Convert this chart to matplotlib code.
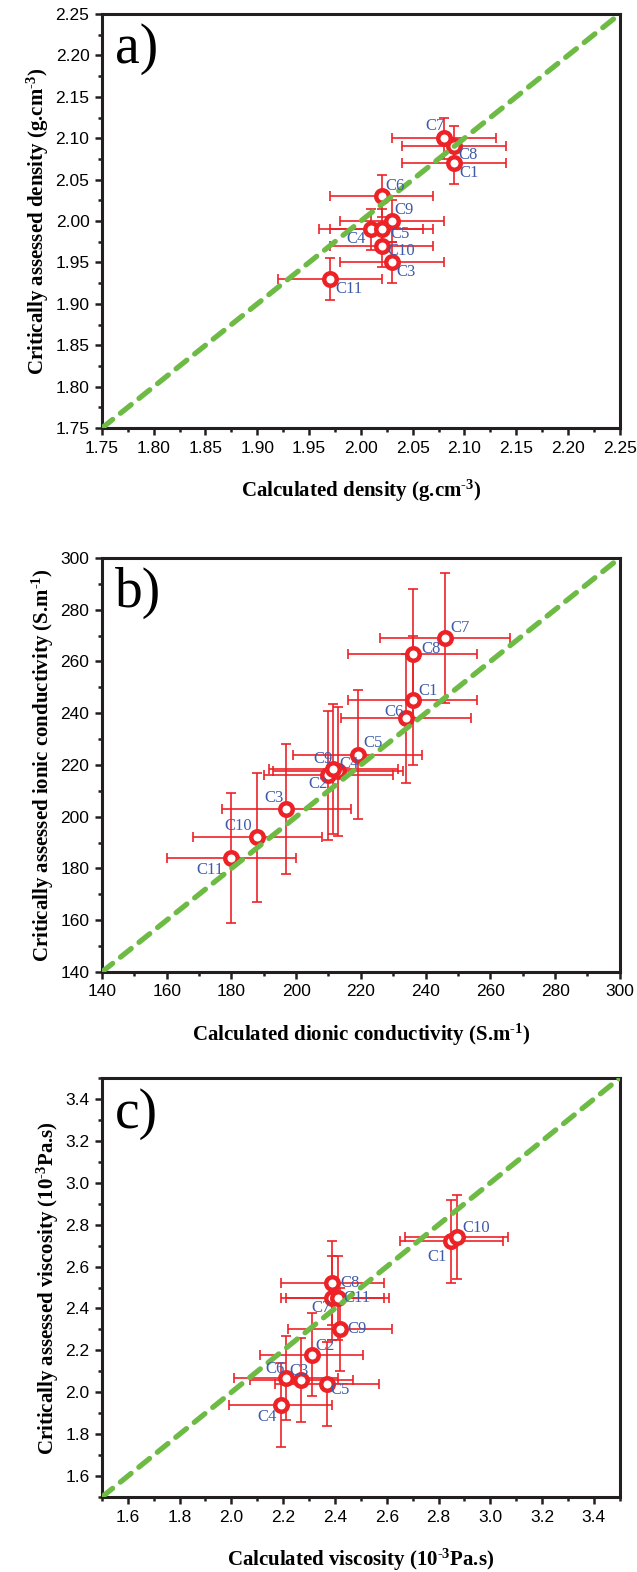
import matplotlib
matplotlib.use("Agg")
import matplotlib.pyplot as plt
from matplotlib.ticker import MultipleLocator, FormatStrFormatter

plt.rcParams['font.family'] = ['Liberation Sans', 'DejaVu Sans']
plt.rcParams['mathtext.fontset'] = 'custom'
plt.rcParams['mathtext.rm'] = 'Liberation Serif:bold'
plt.rcParams['mathtext.bf'] = 'Liberation Serif:bold'
plt.rcParams['mathtext.it'] = 'Liberation Serif:italic'

# ---------------- data ----------------
# a) density
a_labels = ['C1', 'C3', 'C4', 'C5', 'C6', 'C7', 'C8', 'C9', 'C10', 'C11']
a_x = [2.09, 2.03, 2.01, 2.02, 2.02, 2.08, 2.09, 2.03, 2.02, 1.97]
a_y = [2.07, 1.95, 1.99, 1.99, 2.03, 2.10, 2.09, 2.00, 1.97, 1.93]
a_xerr = [0.05] * 10
a_yerr = [0.025] * 10

# b) conductivity
b_labels = ['C1', 'C2', 'C3', 'C4', 'C5', 'C6', 'C7', 'C8', 'C9', 'C10', 'C11']
b_x = [236, 210, 197, 213, 219, 234, 246, 236, 211.5, 188, 180]
b_y = [245, 216, 203, 217.5, 224, 238, 269, 263, 218.5, 192, 184]
b_xerr = [20] * 11
b_yerr = [25] * 11

# c) viscosity
c_labels = ['C1', 'C2', 'C3', 'C4', 'C5', 'C6', 'C7', 'C8', 'C9', 'C10', 'C11']
c_x = [2.85, 2.31, 2.27, 2.19, 2.37, 2.21, 2.39, 2.39, 2.42, 2.87, 2.41]
c_y = [2.72, 2.18, 2.06, 1.94, 2.04, 2.07, 2.45, 2.52, 2.30, 2.74, 2.45]
c_xerr = [0.2] * 11
c_yerr = [0.2] * 11

# label placements (offset in points, horizontal alignment)
a_lab = {'C1': (4, -7, 'left'), 'C3': (3.5, -7, 'left'), 'C4': (-4, -7, 'right'),
         'C5': (6, -3.5, 'left'), 'C6': (3, 7, 'left'), 'C7': (1, 9, 'right'),
         'C8': (3, -6, 'left'), 'C9': (2, 8, 'left'), 'C10': (4, -4, 'left'),
         'C11': (4, -7, 'left')}
b_lab = {'C1': (4, 7, 'left'), 'C2': (-0.5, -6, 'right'), 'C3': (-2, 8, 'right'),
         'C4': (0.5, 5.5, 'left'), 'C5': (4, 8.5, 'left'), 'C6': (-1.5, 4.5, 'right'),
         'C7': (3.5, 7, 'left'), 'C8': (6.5, 3.5, 'left'), 'C9': (-0.5, 7, 'right'),
         'C10': (-3.5, 8, 'right'), 'C11': (-5.5, -8.5, 'right')}
c_lab = {'C1': (-3.5, -11, 'right'), 'C2': (3, 6.5, 'left'), 'C3': (-1.5, 6.5, 'center'),
         'C4': (-3, -8.5, 'right'), 'C5': (2, -4.5, 'left'), 'C6': (-1, 6, 'right'),
         'C7': (-1.5, -7, 'right'), 'C8': (6, 0, 'left'), 'C9': (5, 0, 'left'),
         'C10': (4, 6.5, 'left'), 'C11': (4.5, 0, 'left')}

RED = '#ec2227'
GREEN = '#6dbb45'
BLUE = '#3e5ba9'
SERIF = 'Liberation Serif'

fig = plt.figure(figsize=(6.37, 15.72), dpi=100)

panels = [
    dict(rect=[0.160, 0.7277, 0.813, 0.2634], lim=(1.75, 2.25), major=0.05, minor=0.025,
         fmt='%.2f', x=a_x, y=a_y, xerr=a_xerr, yerr=a_yerr, labels=a_labels, lab=a_lab,
         letter='a)',
         xlabel=r'Calculated density (g.cm$^{\text{-3}}$)',
         ylabel=r'Critically assessed density (g.cm$^{\text{-3}}$)'),
    dict(rect=[0.160, 0.3817, 0.813, 0.2634], lim=(140, 300), major=20, minor=10,
         fmt='%d', x=b_x, y=b_y, xerr=b_xerr, yerr=b_yerr, labels=b_labels, lab=b_lab,
         letter='b)',
         xlabel=r'Calculated dionic conductivity (S.m$^{\text{-1}}$)',
         ylabel=r'Critically assessed ionic conductivity (S.m$^{\text{-1}}$)'),
    dict(rect=[0.160, 0.0477, 0.813, 0.2665], lim=(1.5, 3.5), major=0.2, minor=0.1,
         fmt='%.1f', x=c_x, y=c_y, xerr=c_xerr, yerr=c_yerr, labels=c_labels, lab=c_lab,
         letter='c)',
         xlabel=r'Calculated viscosity (10$^{\text{-3}}$Pa.s)',
         ylabel=r'Critically assessed viscosity (10$^{\text{-3}}$Pa.s)'),
]

for p in panels:
    ax = fig.add_axes(p['rect'])
    lo, hi = p['lim']
    ax.set_xlim(lo, hi)
    ax.set_ylim(lo, hi)
    ax.errorbar(p['x'], p['y'], xerr=p['xerr'], yerr=p['yerr'], fmt='none',
                ecolor=RED, elinewidth=1.2, capsize=3.5, capthick=1.2, zorder=2)
    ax.plot(p['x'], p['y'], 'o', ms=9, mfc='white', mec=RED, mew=3.2,
            zorder=3, linestyle='none')
    ax.plot([lo, hi], [lo, hi], color=GREEN, lw=3.8, ls=(0, (2.6, 1.9)),
            dash_capstyle='round', zorder=4)
    for name, xv, yv in zip(p['labels'], p['x'], p['y']):
        dx, dy, ha = p['lab'][name]
        ax.annotate(name, (xv, yv), xytext=(dx, dy), textcoords='offset points',
                    ha=ha, va='center', color=BLUE, fontsize=12,
                    family=SERIF, zorder=5)
    ax.xaxis.set_major_locator(MultipleLocator(p['major']))
    ax.yaxis.set_major_locator(MultipleLocator(p['major']))
    ax.xaxis.set_minor_locator(MultipleLocator(p['minor']))
    ax.yaxis.set_minor_locator(MultipleLocator(p['minor']))
    ax.xaxis.set_major_formatter(FormatStrFormatter(p['fmt']))
    ax.yaxis.set_major_formatter(FormatStrFormatter(p['fmt']))
    ax.tick_params(which='both', direction='out', top=False, right=False,
                   width=1.8, labelsize=12.5, color='#231f20')
    ax.tick_params(which='major', length=5, pad=4)
    ax.tick_params(which='minor', length=3)
    for s in ax.spines.values():
        s.set_linewidth(2.2)
        s.set_color('#231f20')
    ax.set_xlabel(p['xlabel'], fontsize=15, labelpad=16, family=SERIF,
                  fontweight='bold')
    ax.set_ylabel(p['ylabel'], fontsize=15, labelpad=3, family=SERIF,
                  fontweight='bold')
    ax.text(0.025, 0.915, p['letter'], transform=ax.transAxes, ha='left', va='center',
            fontsize=40, family=SERIF)

fig.savefig('out.png', dpi=100)
